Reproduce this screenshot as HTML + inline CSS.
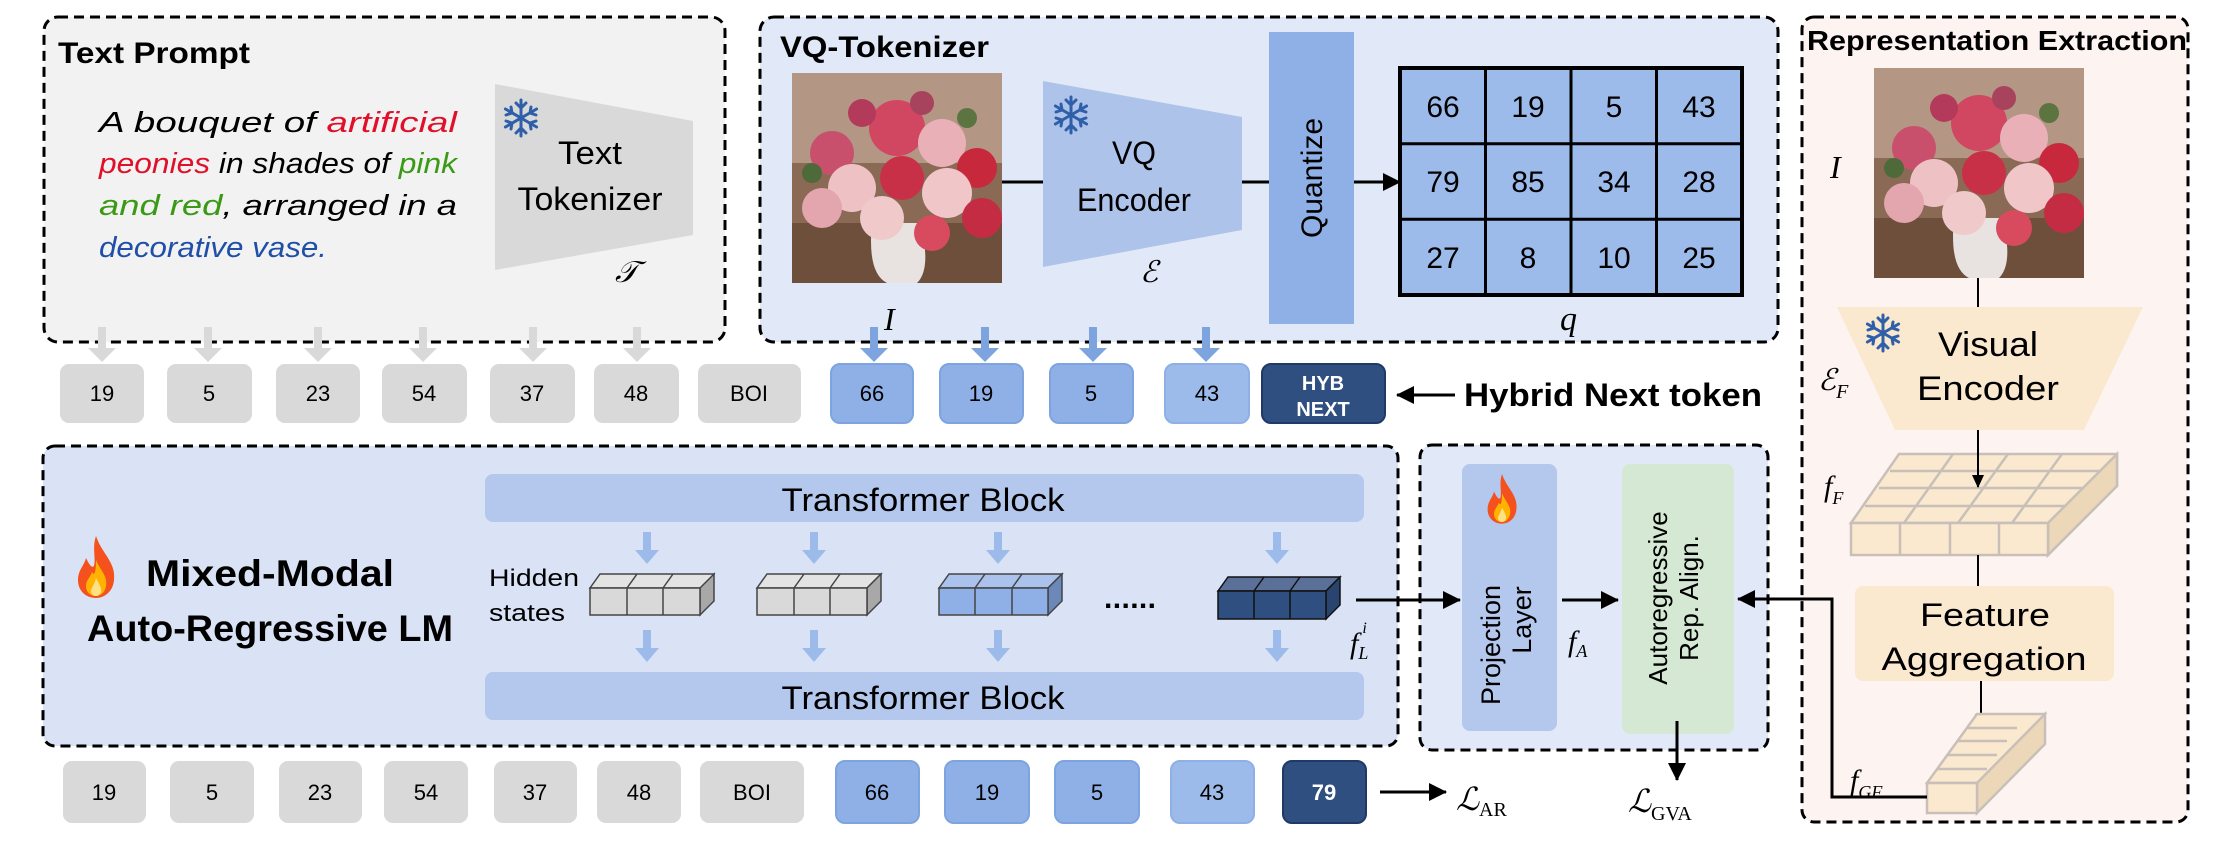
<!DOCTYPE html>
<html><head><meta charset="utf-8"><style>
html,body{margin:0;padding:0;background:#fff;}
svg{display:block;}
text{font-family:"Liberation Sans Narrow","Liberation Sans",sans-serif;}
.s{font-family:"Liberation Sans",sans-serif;}
.m{font-family:"Liberation Serif",serif;font-style:italic;}
</style></head><body>
<svg width="2228" height="846" viewBox="0 0 2228 846" xmlns="http://www.w3.org/2000/svg">
<defs>
<marker id="ah" markerWidth="20" markerHeight="20" refX="17" refY="9" orient="auto" markerUnits="userSpaceOnUse"><path d="M0,0 L18,9 L0,18 z" fill="#000"/></marker>
<marker id="ahs" markerWidth="14" markerHeight="14" refX="12" refY="6" orient="auto" markerUnits="userSpaceOnUse"><path d="M0,0 L13,6 L0,12 z" fill="#000"/></marker>
<g id="flower">
<rect x="0" y="0" width="210" height="210" fill="#8a6a55"/>
<rect x="0" y="0" width="210" height="90" fill="#b49684"/>
<rect x="0" y="150" width="210" height="60" fill="#6e4f3c"/>
<path d="M80,150 Q75,200 95,210 L125,210 Q140,195 128,150z" fill="#e8e2e0"/>
<circle cx="40" cy="80" r="22" fill="#c9506c"/><circle cx="105" cy="55" r="28" fill="#d14660"/>
<circle cx="150" cy="70" r="24" fill="#e9b0b8"/><circle cx="185" cy="95" r="20" fill="#c8283c"/>
<circle cx="60" cy="115" r="24" fill="#eec2c4"/><circle cx="110" cy="105" r="22" fill="#c83048"/>
<circle cx="155" cy="120" r="25" fill="#f1c6c8"/><circle cx="30" cy="135" r="20" fill="#e3a5ae"/>
<circle cx="90" cy="145" r="22" fill="#f0c9cb"/><circle cx="190" cy="145" r="20" fill="#c42c44"/>
<circle cx="140" cy="160" r="18" fill="#d84a5e"/><circle cx="70" cy="40" r="14" fill="#b33a5a"/>
<circle cx="130" cy="30" r="12" fill="#a8435d"/><circle cx="20" cy="100" r="10" fill="#4f6a3a"/>
<circle cx="175" cy="45" r="10" fill="#5c7440"/>
</g>
<g id="snow" stroke="#2f5fa8" stroke-width="3" fill="none" stroke-linecap="round">
<line x1="0" y1="-18" x2="0" y2="18"/><line x1="-15.6" y1="-9" x2="15.6" y2="9"/><line x1="-15.6" y1="9" x2="15.6" y2="-9"/>
<path d="M-5,-15 L0,-10 L5,-15 M-5,15 L0,10 L5,15 M-15,-3 L-9,-5 L-10,-11 M15,3 L9,5 L10,11 M15,-3 L9,-5 L10,-11 M-15,3 L-9,5 L-10,11"/>
</g>
<g id="flame">
<path d="M20,0 C26,18 40,26 38,44 C37,56 28,62 20,62 C10,62 2,55 2,44 C2,34 8,30 10,22 C14,30 16,32 18,30 C20,22 16,12 20,0z" fill="#f4511e"/>
<path d="M20,24 C24,34 32,40 30,50 C29,57 24,60 20,60 C14,60 10,56 10,50 C10,44 14,42 16,36 C18,40 20,38 20,24z" fill="#ffb300"/>
<path d="M20,42 C23,48 26,52 25,56 C24,59 22,60 20,60 C17,60 15,58 15,55 C15,52 18,50 20,42z" fill="#ffe082"/>
</g>
</defs>

<!-- Text Prompt box -->
<rect x="44" y="17" width="681" height="325" rx="14" fill="#f2f2f2" stroke="#000" stroke-width="3" stroke-dasharray="10,6"/>
<text x="58" y="63" font-size="30" font-weight="bold" textLength="192" lengthAdjust="spacingAndGlyphs">Text Prompt</text>
<g font-size="29" font-style="italic">
<text x="99" y="132" textLength="358" lengthAdjust="spacingAndGlyphs">A  bouquet  of  <tspan fill="#e0102a">artificial</tspan></text>
<text x="99" y="173" textLength="358" lengthAdjust="spacingAndGlyphs"><tspan fill="#e0102a">peonies</tspan> in shades of <tspan fill="#3a9a16">pink</tspan></text>
<text x="99" y="215" textLength="358" lengthAdjust="spacingAndGlyphs"><tspan fill="#3a9a16">and  red</tspan>,  arranged  in  a</text>
<text x="99" y="257" fill="#1f4fa8" textLength="228" lengthAdjust="spacingAndGlyphs">decorative vase.</text>
</g>
<polygon points="495,84 693,121 693,235 495,270" fill="#d9d9d9"/>
<use href="#snow" x="521" y="118"/>
<text x="590" y="164" font-size="32" text-anchor="middle" textLength="64" lengthAdjust="spacingAndGlyphs">Text</text>
<text x="590" y="210" font-size="32" text-anchor="middle" textLength="145" lengthAdjust="spacingAndGlyphs">Tokenizer</text>
<text x="615" y="282" font-size="30" class="m">𝒯</text>

<!-- VQ Tokenizer box -->
<rect x="760" y="17" width="1018" height="325" rx="14" fill="#e1e8f7" stroke="#000" stroke-width="3" stroke-dasharray="10,6"/>
<text x="780" y="57" font-size="30" font-weight="bold" textLength="209" lengthAdjust="spacingAndGlyphs">VQ-Tokenizer</text>
<use href="#flower" transform="translate(792,73)"/>
<text x="884" y="330" font-size="32" class="m">I</text>
<line x1="1002" y1="182" x2="1043" y2="182" stroke="#000" stroke-width="3"/>
<polygon points="1043,81 1242,117 1242,230 1043,267" fill="#aec3ea"/>
<use href="#snow" x="1071" y="115"/>
<text x="1134" y="164" font-size="32" text-anchor="middle" textLength="44" lengthAdjust="spacingAndGlyphs">VQ</text>
<text x="1134" y="211" font-size="32" text-anchor="middle" textLength="114" lengthAdjust="spacingAndGlyphs">Encoder</text>
<text x="1140" y="282" font-size="30" class="m">ℰ</text>
<line x1="1242" y1="182" x2="1269" y2="182" stroke="#000" stroke-width="3"/>
<rect x="1269" y="32" width="85" height="292" fill="#8fb0e6"/>
<line x1="1354" y1="182" x2="1400" y2="182" stroke="#000" stroke-width="3" marker-end="url(#ah)"/>
<text class="s" font-size="30" text-anchor="middle" transform="translate(1322,178) rotate(-90)">Quantize</text>
<g>
<rect x="1400" y="68" width="342" height="227" fill="#9dbbea" stroke="#000" stroke-width="4"/>
<g stroke="#000" stroke-width="3">
<line x1="1485.5" y1="68" x2="1485.5" y2="295"/><line x1="1571" y1="68" x2="1571" y2="295"/><line x1="1656.5" y1="68" x2="1656.5" y2="295"/>
<line x1="1400" y1="143.7" x2="1742" y2="143.7"/><line x1="1400" y1="219.3" x2="1742" y2="219.3"/>
</g>
<g font-size="30" text-anchor="middle">
<text x="1443" y="117">66</text><text x="1528" y="117">19</text><text x="1614" y="117">5</text><text x="1699" y="117">43</text>
<text x="1443" y="192">79</text><text x="1528" y="192">85</text><text x="1614" y="192">34</text><text x="1699" y="192">28</text>
<text x="1443" y="268">27</text><text x="1528" y="268">8</text><text x="1614" y="268">10</text><text x="1699" y="268">25</text>
</g>
</g>
<text x="1560" y="330" font-size="34" class="m">q</text>

<!-- Representation Extraction -->
<rect x="1802" y="17" width="386" height="805" rx="12" fill="#fdf4f2" stroke="#000" stroke-width="3" stroke-dasharray="10,6"/>
<text x="1807" y="50" font-size="28" font-weight="bold" textLength="380" lengthAdjust="spacingAndGlyphs">Representation Extraction</text>
<use href="#flower" transform="translate(1874,68)"/>
<text x="1830" y="178" font-size="32" class="m">I</text>
<line x1="1978" y1="278" x2="1978" y2="307" stroke="#000" stroke-width="2"/>
<polygon points="1837,307 2143,307 2084,430 1895,430" fill="#fae8cf"/>
<use href="#snow" x="1883" y="333"/>
<text x="1988" y="356" font-size="34" text-anchor="middle" textLength="100" lengthAdjust="spacingAndGlyphs">Visual</text>
<text x="1988" y="400" font-size="34" text-anchor="middle" textLength="142" lengthAdjust="spacingAndGlyphs">Encoder</text>
<text x="1818" y="390" font-size="30" class="m">ℰ<tspan font-size="20" dy="8">F</tspan></text>
<!-- fF cube -->
<g stroke="#c8c0b8" stroke-width="2.5" fill="#fae8cf">
<polygon points="1851,523 1899,454 2117,454 2117,486 2048,555 2048,523"/>
<polygon points="2048,523 2117,454 2117,486 2048,555" fill="#ecd7b8"/>
<rect x="1851" y="523" width="197" height="32"/>
<line x1="1900" y1="523" x2="1900" y2="555"/><line x1="1950" y1="523" x2="1950" y2="555"/><line x1="1999" y1="523" x2="1999" y2="555"/>
<line x1="1953" y1="454" x2="1904" y2="523"/><line x1="2008" y1="454" x2="1958" y2="523"/><line x1="2062" y1="454" x2="2012" y2="523"/>
<line x1="1865" y1="506" x2="2065" y2="506" /><line x1="1879" y1="488" x2="2082" y2="488"/><line x1="1890" y1="471" x2="2100" y2="471"/>
</g>
<line x1="1978" y1="430" x2="1978" y2="487" stroke="#000" stroke-width="2" marker-end="url(#ahs)"/>
<text x="1824" y="496" font-size="30" class="m">f<tspan font-size="18" dy="8">F</tspan></text>
<line x1="1978" y1="555" x2="1978" y2="586" stroke="#000" stroke-width="2"/>
<rect x="1855" y="586" width="259" height="95" rx="8" fill="#fae8cf"/>
<text x="1985" y="626" font-size="32" text-anchor="middle" textLength="130" lengthAdjust="spacingAndGlyphs">Feature</text>
<text x="1984" y="670" font-size="32" text-anchor="middle" textLength="205" lengthAdjust="spacingAndGlyphs">Aggregation</text>
<line x1="1981" y1="681" x2="1981" y2="726" stroke="#000" stroke-width="2" marker-end="url(#ahs)"/>
<!-- fGF -->
<g stroke="#c8c0b8" stroke-width="2.5" fill="#fae8cf">
<polygon points="1927,783 1977,714 2045,714 1995,783"/>
<polygon points="1977,783 2045,714 2045,744 1977,813" fill="#ecd7b8"/>
<rect x="1927" y="783" width="50" height="30"/>
<line x1="1937" y1="769" x2="1987" y2="769"/><line x1="1947" y1="755" x2="1997" y2="755"/><line x1="1957" y1="741" x2="2007" y2="741"/><line x1="1967" y1="728" x2="2017" y2="728"/>
</g>
<text x="1850" y="790" font-size="30" class="m">f<tspan font-size="18" dy="8">GF</tspan></text>

<!-- top token row -->
<g stroke="#d9d9d9" stroke-width="8">
<line x1="102" y1="327" x2="102" y2="350"/><line x1="208" y1="327" x2="208" y2="350"/><line x1="318" y1="327" x2="318" y2="350"/>
<line x1="423" y1="327" x2="423" y2="350"/><line x1="533" y1="327" x2="533" y2="350"/><line x1="637" y1="327" x2="637" y2="350"/>
</g>
<g fill="#d9d9d9">
<polygon points="88,348 116,348 102,362"/><polygon points="194,348 222,348 208,362"/><polygon points="304,348 332,348 318,362"/>
<polygon points="409,348 437,348 423,362"/><polygon points="519,348 547,348 533,362"/><polygon points="623,348 651,348 637,362"/>
</g>
<g stroke="#7ea4e0" stroke-width="8">
<line x1="874" y1="327" x2="874" y2="350"/><line x1="985" y1="327" x2="985" y2="350"/><line x1="1093" y1="327" x2="1093" y2="350"/><line x1="1206" y1="327" x2="1206" y2="350"/>
</g>
<g fill="#7ea4e0">
<polygon points="860,348 888,348 874,362"/><polygon points="971,348 999,348 985,362"/><polygon points="1079,348 1107,348 1093,362"/><polygon points="1192,348 1220,348 1206,362"/>
</g>
<g font-size="22" text-anchor="middle" class="s">
<rect x="60" y="364" width="84" height="59" rx="9" fill="#d9d9d9"/><text x="102" y="401">19</text>
<rect x="167" y="364" width="85" height="59" rx="9" fill="#d9d9d9"/><text x="209" y="401">5</text>
<rect x="276" y="364" width="84" height="59" rx="9" fill="#d9d9d9"/><text x="318" y="401">23</text>
<rect x="382" y="364" width="85" height="59" rx="9" fill="#d9d9d9"/><text x="424" y="401">54</text>
<rect x="490" y="364" width="85" height="59" rx="9" fill="#d9d9d9"/><text x="532" y="401">37</text>
<rect x="594" y="364" width="85" height="59" rx="9" fill="#d9d9d9"/><text x="636" y="401">48</text>
<rect x="698" y="364" width="103" height="59" rx="9" fill="#d9d9d9"/><text x="749" y="401">BOI</text>
<rect x="831" y="364" width="82" height="59" rx="9" fill="#8fb0e6" stroke="#7ea4e0" stroke-width="2"/><text x="872" y="401">66</text>
<rect x="940" y="364" width="83" height="59" rx="9" fill="#8fb0e6" stroke="#7ea4e0" stroke-width="2"/><text x="981" y="401">19</text>
<rect x="1050" y="364" width="83" height="59" rx="9" fill="#8fb0e6" stroke="#7ea4e0" stroke-width="2"/><text x="1091" y="401">5</text>
<rect x="1165" y="364" width="84" height="59" rx="9" fill="#9dbbea" stroke="#8fb0e6" stroke-width="2"/><text x="1207" y="401">43</text>
<rect x="1262" y="364" width="123" height="59" rx="9" fill="#2f4f80" stroke="#1f3a66" stroke-width="2"/>
<text x="1323" y="390" fill="#fff" font-weight="bold" font-size="20">HYB</text>
<text x="1323" y="416" fill="#fff" font-weight="bold" font-size="20">NEXT</text>
</g>
<line x1="1455" y1="395" x2="1397" y2="395" stroke="#000" stroke-width="3" marker-end="url(#ah)"/>
<text x="1464" y="406" font-size="32" font-weight="bold" textLength="298" lengthAdjust="spacingAndGlyphs">Hybrid Next token</text>

<!-- Mixed-Modal box -->
<rect x="43" y="446" width="1355" height="300" rx="12" fill="#dae3f5" stroke="#000" stroke-width="3" stroke-dasharray="10,6"/>
<use href="#flame" transform="translate(76,536)"/>
<text x="146" y="586" font-size="37" font-weight="bold" textLength="248" lengthAdjust="spacingAndGlyphs">Mixed-Modal</text>
<text x="87" y="641" font-size="37" font-weight="bold" textLength="366" lengthAdjust="spacingAndGlyphs">Auto-Regressive LM</text>
<rect x="485" y="474" width="879" height="48" rx="8" fill="#b4c7ec"/>
<rect x="485" y="672" width="879" height="48" rx="8" fill="#b4c7ec"/>
<text x="923" y="511" font-size="32" text-anchor="middle" textLength="283" lengthAdjust="spacingAndGlyphs">Transformer Block</text>
<text x="923" y="709" font-size="32" text-anchor="middle" textLength="283" lengthAdjust="spacingAndGlyphs">Transformer Block</text>
<text x="489" y="586" font-size="24" textLength="90" lengthAdjust="spacingAndGlyphs">Hidden</text>
<text x="489" y="621" font-size="24" textLength="76" lengthAdjust="spacingAndGlyphs">states</text>
<g fill="#9dbbea">
<rect x="643" y="532" width="8" height="20"/><polygon points="635,550 659,550 647,564"/>
<rect x="810" y="532" width="8" height="20"/><polygon points="802,550 826,550 814,564"/>
<rect x="994" y="532" width="8" height="20"/><polygon points="986,550 1010,550 998,564"/>
<rect x="1273" y="532" width="8" height="20"/><polygon points="1265,550 1289,550 1277,564"/>
<rect x="643" y="630" width="8" height="20"/><polygon points="635,648 659,648 647,662"/>
<rect x="810" y="630" width="8" height="20"/><polygon points="802,648 826,648 814,662"/>
<rect x="994" y="630" width="8" height="20"/><polygon points="986,648 1010,648 998,662"/>
<rect x="1273" y="630" width="8" height="20"/><polygon points="1265,648 1289,648 1277,662"/>
</g>
<!-- cubes -->
<g stroke="#444" stroke-width="1.5">
<g fill="#e3e3e3"><polygon points="590,588 600,574 714,574 704,588"/><polygon points="700,588 714,574 714,601 700,615" fill="#a8a8a8"/><rect x="590" y="588" width="110" height="27" fill="#d9d9d9"/>
<line x1="627" y1="588" x2="627" y2="615"/><line x1="663" y1="588" x2="663" y2="615"/><line x1="627" y1="588" x2="637" y2="574"/><line x1="663" y1="588" x2="673" y2="574"/></g>
<g fill="#e3e3e3"><polygon points="757,588 767,574 881,574 867,588"/><polygon points="867,588 881,574 881,601 867,615" fill="#a8a8a8"/><rect x="757" y="588" width="110" height="27" fill="#d9d9d9"/>
<line x1="794" y1="588" x2="794" y2="615"/><line x1="830" y1="588" x2="830" y2="615"/><line x1="794" y1="588" x2="804" y2="574"/><line x1="830" y1="588" x2="840" y2="574"/></g>
<g fill="#aac2ec"><polygon points="939,588 949,574 1062,574 1048,588"/><polygon points="1048,588 1062,574 1062,601 1048,615" fill="#6c88b8"/><rect x="939" y="588" width="109" height="27" fill="#8fb0e6"/>
<line x1="975" y1="588" x2="975" y2="615"/><line x1="1012" y1="588" x2="1012" y2="615"/><line x1="975" y1="588" x2="985" y2="574"/><line x1="1012" y1="588" x2="1022" y2="574"/></g>
<g fill="#5a7099" stroke="#111"><polygon points="1218,591 1228,577 1340,577 1326,591"/><polygon points="1326,591 1340,577 1340,605 1326,619" fill="#2a4470"/><rect x="1218" y="591" width="108" height="28" fill="#2f4f80"/>
<line x1="1254" y1="591" x2="1254" y2="619"/><line x1="1290" y1="591" x2="1290" y2="619"/><line x1="1254" y1="591" x2="1264" y2="577"/><line x1="1290" y1="591" x2="1300" y2="577"/></g>
</g>
<text x="1104" y="608" font-size="30" font-weight="bold" textLength="52" lengthAdjust="spacing">......</text>
<text x="1350" y="653" font-size="30" class="m">f<tspan font-size="18" dy="6">L</tspan><tspan font-size="16" dx="-6" dy="-26">i</tspan></text>

<!-- Projection box -->
<rect x="1420" y="445" width="348" height="305" rx="12" fill="#e1e8f7" stroke="#000" stroke-width="3" stroke-dasharray="10,6"/>
<rect x="1462" y="464" width="95" height="267" rx="8" fill="#b4c7ec"/>
<use href="#flame" transform="translate(1486,474) scale(0.8)"/>
<text class="s" font-size="27" text-anchor="middle" transform="translate(1500,645) rotate(-90)">Projection</text>
<text class="s" font-size="27" text-anchor="middle" transform="translate(1531,620) rotate(-90)">Layer</text>
<text x="1568" y="651" font-size="30" class="m">f<tspan font-size="18" dy="6">A</tspan></text>
<rect x="1622" y="464" width="112" height="270" rx="8" fill="#d5e8d4"/>
<text class="s" font-size="26" text-anchor="middle" transform="translate(1667,598) rotate(-90)">Autoregressive</text>
<text class="s" font-size="26" text-anchor="middle" transform="translate(1698,598) rotate(-90)">Rep. Align.</text>

<!-- connectors on top -->
<line x1="1356" y1="600" x2="1460" y2="600" stroke="#000" stroke-width="3" marker-end="url(#ah)"/>
<line x1="1562" y1="600" x2="1618" y2="600" stroke="#000" stroke-width="3" marker-end="url(#ah)"/>
<line x1="1677" y1="721" x2="1677" y2="780" stroke="#000" stroke-width="3" marker-end="url(#ah)"/>
<polyline points="1927,797 1832,797 1832,599 1738,599" fill="none" stroke="#000" stroke-width="3" marker-end="url(#ah)"/>

<!-- bottom token row -->
<g font-size="22" text-anchor="middle" class="s">
<rect x="63" y="761" width="83" height="62" rx="9" fill="#d9d9d9"/><text x="104" y="800">19</text>
<rect x="170" y="761" width="84" height="62" rx="9" fill="#d9d9d9"/><text x="212" y="800">5</text>
<rect x="279" y="761" width="83" height="62" rx="9" fill="#d9d9d9"/><text x="320" y="800">23</text>
<rect x="384" y="761" width="84" height="62" rx="9" fill="#d9d9d9"/><text x="426" y="800">54</text>
<rect x="494" y="761" width="83" height="62" rx="9" fill="#d9d9d9"/><text x="535" y="800">37</text>
<rect x="597" y="761" width="84" height="62" rx="9" fill="#d9d9d9"/><text x="639" y="800">48</text>
<rect x="700" y="761" width="104" height="62" rx="9" fill="#d9d9d9"/><text x="752" y="800">BOI</text>
<rect x="836" y="761" width="83" height="62" rx="9" fill="#8fb0e6" stroke="#7ea4e0" stroke-width="2"/><text x="877" y="800">66</text>
<rect x="945" y="761" width="84" height="62" rx="9" fill="#8fb0e6" stroke="#7ea4e0" stroke-width="2"/><text x="987" y="800">19</text>
<rect x="1055" y="761" width="84" height="62" rx="9" fill="#8fb0e6" stroke="#7ea4e0" stroke-width="2"/><text x="1097" y="800">5</text>
<rect x="1171" y="761" width="83" height="62" rx="9" fill="#9dbbea" stroke="#8fb0e6" stroke-width="2"/><text x="1212" y="800">43</text>
<rect x="1283" y="761" width="83" height="62" rx="9" fill="#2f4f80" stroke="#1f3a66" stroke-width="2"/><text x="1324" y="800" fill="#fff" font-weight="bold">79</text>
</g>
<line x1="1380" y1="792" x2="1446" y2="792" stroke="#000" stroke-width="3" marker-end="url(#ah)"/>
<text x="1456" y="810" font-size="32" class="m">ℒ<tspan font-size="20" font-style="normal" dy="6">AR</tspan></text>
<text x="1628" y="812" font-size="32" class="m">ℒ<tspan font-size="20" font-style="normal" dy="8">GVA</tspan></text>
</svg>
</body></html>
